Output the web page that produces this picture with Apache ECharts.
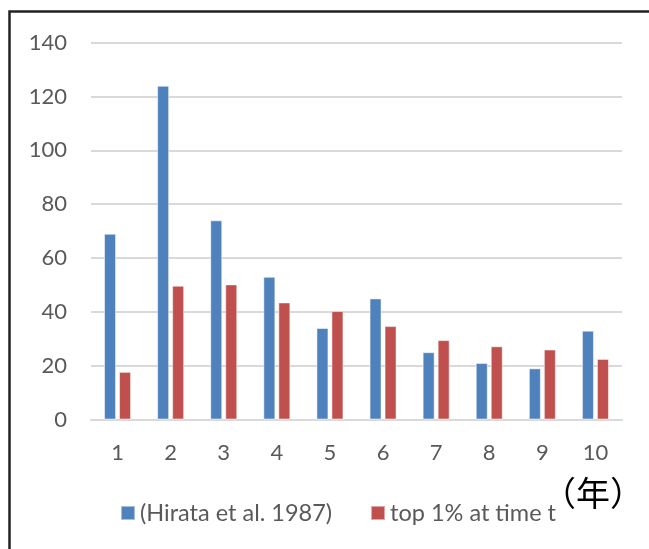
<!DOCTYPE html>
<html>
<head>
<meta charset="utf-8">
<script src="https://cdn.jsdelivr.net/npm/echarts@6/dist/echarts.min.js"></script>
<style>
html,body{margin:0;padding:0;background:#fff;}
#chart{width:649px;height:549px;}
</style>
</head>
<body>
<div id="chart"></div>
<script>
const categories = ['1','2','3','4','5','6','7','8','9','10'];
const seriesNames = ['(Hirata et al. 1987)', 'top 1% at time t'];
const hirata = [69, 124, 74, 53, 34, 45, 25, 21, 19, 33];
const top1 = [17.7, 49.7, 50.2, 43.5, 40.3, 34.7, 29.5, 27.2, 26, 22.5];
const unitLabel = '（年）';

const chart = echarts.init(document.getElementById('chart'), null, {renderer: 'canvas'});
const txt = '#595959';
const font = 'Lato';
chart.setOption({
  backgroundColor: '#fff',
  animation: false,
  grid: {left: 91, right: 27, top: 42.7, bottom: 129.5, containLabel: false},
  legend: {
    left: 115, top: 496,
    itemWidth: 14, itemHeight: 14, itemGap: 38,
    icon: 'rect',
    textStyle: {color: txt, fontSize: 23.5, fontFamily: font},
    data: seriesNames
  },
  xAxis: {
    type: 'category',
    data: categories,
    axisTick: {show: false},
    axisLine: {lineStyle: {color: '#d9d9d9', width: 2}},
    axisLabel: {color: txt, fontSize: 22, fontFamily: font, margin: 22}
  },
  yAxis: {
    type: 'value', min: 0, max: 140, interval: 20,
    axisLine: {show: false}, axisTick: {show: false},
    splitLine: {lineStyle: {color: '#d9d9d9', width: 2}},
    axisLabel: {color: txt, fontSize: 22, fontFamily: font, margin: 24}
  },
  graphic: [
    {type: 'rect', shape: {x: 9.5, y: 11.5, width: 700, height: 600},
     style: {fill: 'none', stroke: '#222', lineWidth: 2.5}, silent: true},
    {type: 'text', left: 542, top: 476,
     style: {text: unitLabel, fontSize: 34, fontFamily: 'Noto Sans CJK JP', fill: '#000'}}
  ],
  series: [
    {name: seriesNames[0], type: 'bar', data: hirata, barWidth: 12, barGap: '25%',
     itemStyle: {color: '#4F81BD', borderColor: 'rgba(255,255,255,0.5)', borderWidth: 1}},
    {name: seriesNames[1], type: 'bar', data: top1, barWidth: 12, barGap: '25%',
     itemStyle: {color: '#C0504D', borderColor: 'rgba(255,255,255,0.5)', borderWidth: 1}}
  ]
});
</script>
</body>
</html>
